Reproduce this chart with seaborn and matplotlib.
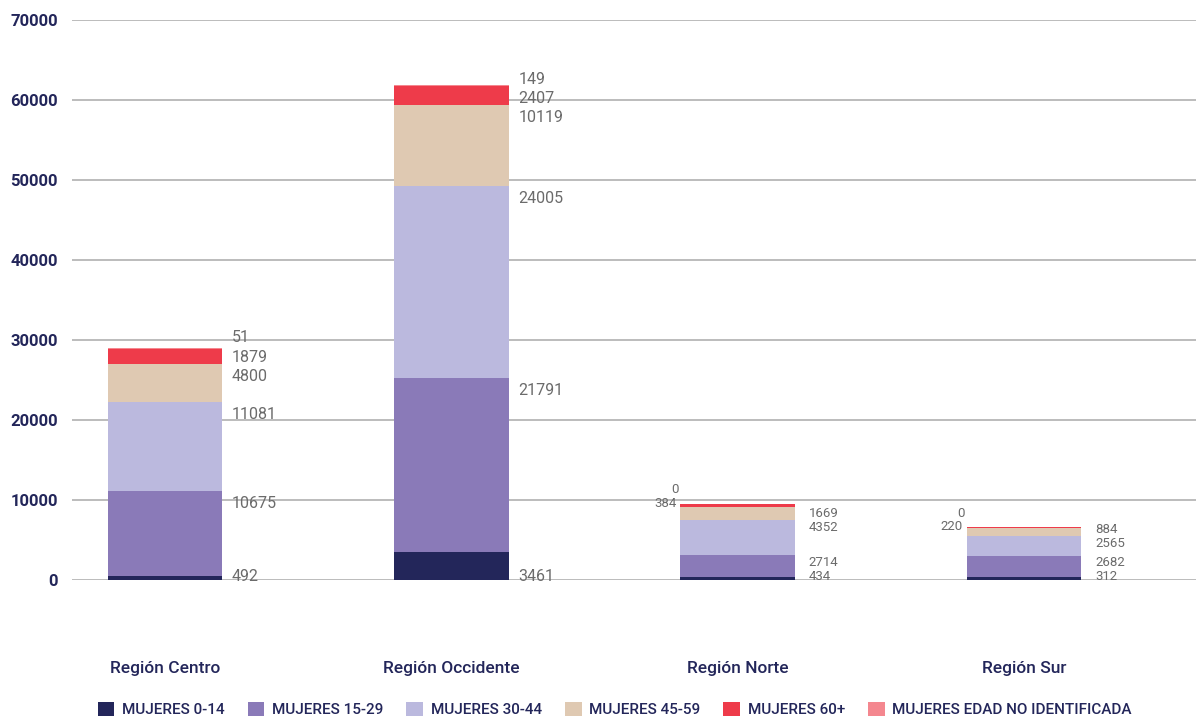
import numpy as np
import matplotlib
matplotlib.use("Agg")
import matplotlib.pyplot as plt
import seaborn as sns
from matplotlib.patches import Patch

# datos por region
regiones = ["Región Centro", "Región Occidente", "Región Norte", "Región Sur"]
series = ["MUJERES 0-14", "MUJERES 15-29", "MUJERES 30-44", "MUJERES 45-59",
          "MUJERES 60+", "MUJERES EDAD NO IDENTIFICADA"]
m_0_14 = [492, 3461, 434, 312]
m_15_29 = [10675, 21791, 2714, 2682]
m_30_44 = [11081, 24005, 4352, 2565]
m_45_59 = [4800, 10119, 1669, 884]
m_60 = [1879, 2407, 384, 220]
m_nd = [51, 149, 0, 0]

colores = ["#23265a", "#8a7ab8", "#bbb9de", "#dfc9b2", "#ee3b4a", "#f4878f"]

sns.set_theme(style="white")
plt.rcParams["font.family"] = ["Roboto", "DejaVu Sans"]

fig = plt.figure(figsize=(11.96, 7.21), dpi=100)
ax = fig.add_axes([0.06, 0.1956, 0.94, 0.7767])

valores = [m_0_14, m_15_29, m_30_44, m_45_59, m_60, m_nd]
base = np.zeros(len(regiones))
for vals, col in zip(valores, colores):
    sns.barplot(x=regiones, y=vals, bottom=base, color=col, width=0.4,
                saturation=1, ax=ax, linewidth=0)
    base = base + np.array(vals)

# etiquetas de valores
ancho = 0.4
for i in range(len(regiones)):
    segs = [v[i] for v in valores]
    tops = np.cumsum(segs)
    grande = tops[-1] > 20000
    if grande:
        fs, off, gap, n_der, dx = 11.5, 1600, 2400, 6, 7
    else:
        fs, off, gap, n_der, dx = 9.5, 1000, 1750, 4, 10
    ys = []
    for k in range(n_der):
        y = 400 if k == 0 else tops[k] - off
        if ys and y - ys[-1] < gap:
            y = ys[-1] + gap
        ys.append(y)
    for k in range(n_der):
        ax.annotate(str(segs[k]), (i + ancho / 2, ys[k]), xytext=(dx, 0),
                    textcoords="offset points", ha="left", va="center",
                    fontsize=fs, color="#6b6b6b")
    if not grande:
        ax.annotate(str(segs[4]), (i - ancho / 2, tops[4]), xytext=(-3, 0),
                    textcoords="offset points", ha="right", va="center",
                    fontsize=fs, color="#6b6b6b")
        ax.annotate(str(segs[5]), (i - ancho / 2, tops[5] + 1700), xytext=(-4, 0),
                    textcoords="offset points", ha="center", va="center",
                    fontsize=fs, color="#6b6b6b")

ax.set_ylim(0, 70000)
ax.set_xlim(-0.325, 3.6)
ax.set_yticks(range(0, 70001, 10000))
ax.yaxis.grid(True, color="#b0b0b0", linewidth=1.2)
ax.set_axisbelow(True)
sns.despine(ax=ax, left=True, bottom=True)
ax.tick_params(axis="x", length=0, pad=58, labelsize=12.5, labelcolor="#23265a")
ax.tick_params(axis="y", length=0, pad=10, labelsize=12, labelcolor="#23265a")
for lab in ax.get_xticklabels():
    lab.set_fontweight("medium")
for lab in ax.get_yticklabels():
    lab.set_fontweight("bold")
ax.set_xlabel("")
ax.set_ylabel("")

handles = [Patch(facecolor=c, edgecolor="none", label=s) for s, c in zip(series, colores)]
leg = fig.legend(handles=handles, loc="center", bbox_to_anchor=(0.514, 0.016), ncol=6,
                 frameon=False, fontsize=11, handlelength=1.1, handleheight=1.1,
                 handletextpad=0.5, columnspacing=1.5)
for t in leg.get_texts():
    t.set_color("#23265a")
    t.set_fontweight("medium")

fig.savefig("out.png", dpi=100)
